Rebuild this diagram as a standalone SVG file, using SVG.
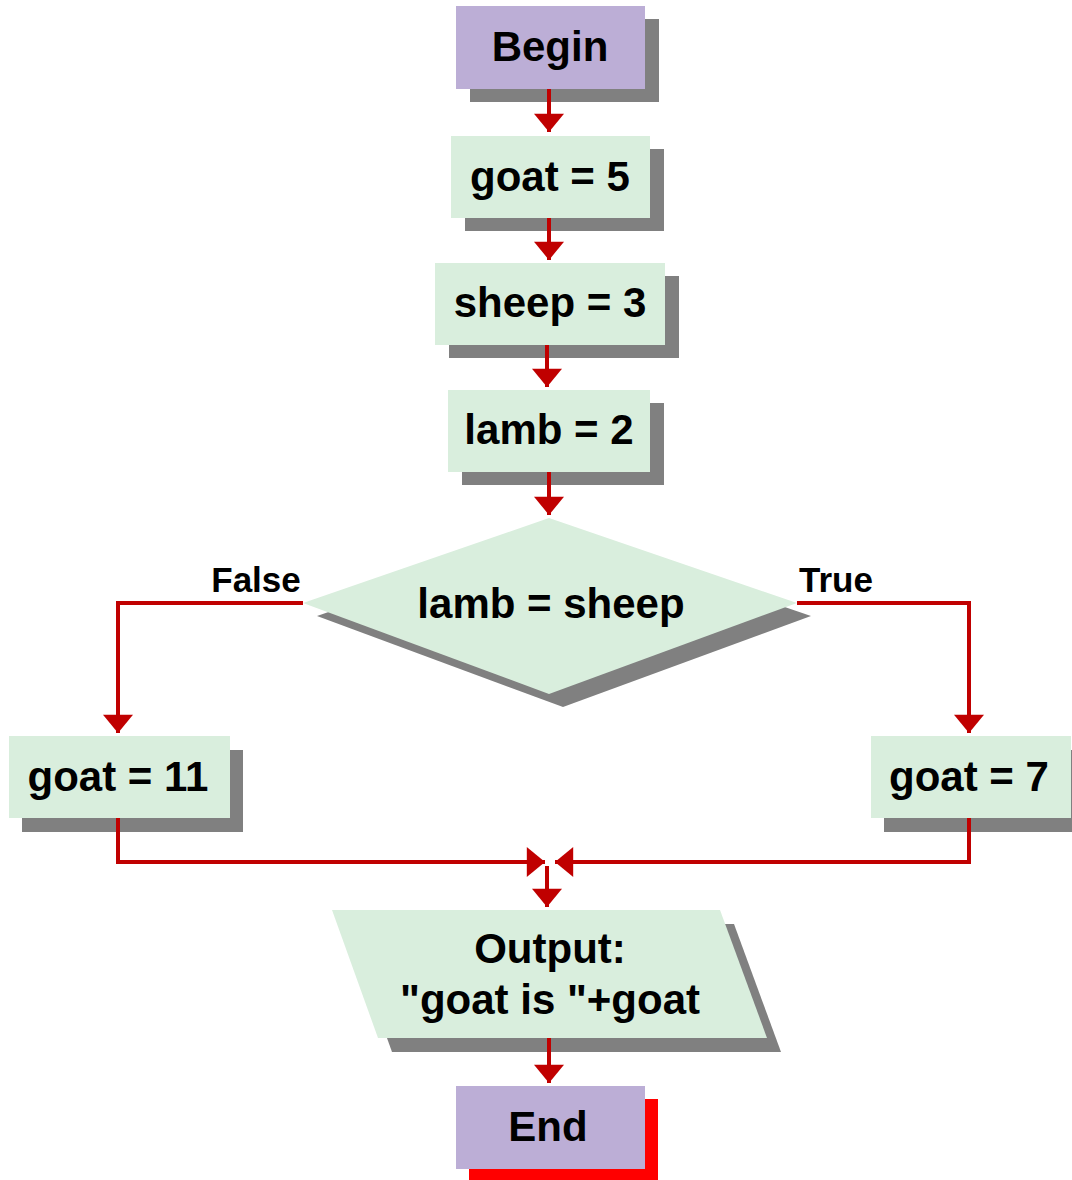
<svg xmlns="http://www.w3.org/2000/svg" width="1072" height="1180" viewBox="0 0 1072 1180">
<defs>
<style>
.term{fill:#bcaed6}
.proc{fill:#d9eedd}
.sh{fill:#808080}
.shr{fill:#ff0000}
.t{font-family:"Liberation Sans",Arial,sans-serif;font-weight:bold;font-size:42px;fill:#000;text-anchor:middle}
.lbl{font-family:"Liberation Sans",Arial,sans-serif;font-weight:bold;font-size:35px;fill:#000;text-anchor:middle}
.c{fill:none;stroke:#c00000;stroke-width:4}
</style>
<marker id="ah" markerUnits="userSpaceOnUse" markerWidth="30" markerHeight="30" viewBox="0 0 17 28" refX="17" refY="14" orient="auto">
<path d="M0,0 L17,14 L0,28 Z" fill="#c00000"/>
</marker>
</defs>
<rect width="1072" height="1180" fill="#fff"/>
<g id="begin">
<rect class="sh" x="470" y="19" width="189" height="83"/>
<rect class="term" x="456" y="6" width="189" height="83"/>
<text class="t" x="550" y="61">Begin</text>
</g>
<g id="goat5">
<rect class="sh" x="465" y="149" width="199" height="82"/>
<rect class="proc" x="451" y="136" width="199" height="82"/>
<text class="t" x="550" y="191">goat = 5</text>
</g>
<g id="sheep3">
<rect class="sh" x="449" y="276" width="230" height="82"/>
<rect class="proc" x="435" y="263" width="230" height="82"/>
<text class="t" x="550" y="317">sheep = 3</text>
</g>
<g id="lamb2">
<rect class="sh" x="462" y="403" width="202" height="82"/>
<rect class="proc" x="448" y="390" width="202" height="82"/>
<text class="t" x="549" y="444">lamb = 2</text>
</g>
<g id="decision">
<polygon class="sh" points="563,531 811,616 563,707 317,616"/>
<polygon class="proc" points="549,518 797,603 549,694 303,603"/>
<text class="t" x="551" y="618">lamb = sheep</text>
</g>
<g id="goat11">
<rect class="sh" x="22" y="750" width="221" height="82"/>
<rect class="proc" x="9" y="736" width="221" height="82"/>
<text class="t" x="118" y="791">goat = 11</text>
</g>
<g id="goat7">
<rect class="sh" x="884" y="750" width="200" height="82"/>
<rect class="proc" x="871" y="736" width="200" height="82"/>
<text class="t" x="969" y="791">goat = 7</text>
</g>
<g id="output">
<polygon class="sh" points="346,924 734,924 781,1052 392,1052"/>
<polygon class="proc" points="332,910 720,910 767,1038 378,1038"/>
<text class="t" x="550" y="963">Output:</text>
<text class="t" x="550" y="1014">"goat is "+goat</text>
</g>
<g id="end">
<rect class="shr" x="469" y="1099" width="189" height="83"/>
<rect class="term" x="456" y="1086" width="189" height="83"/>
<text class="t" x="548" y="1141">End</text>
</g>
<g id="connectors">
<path class="c" d="M549,89 V132" marker-end="url(#ah)"/>
<path class="c" d="M549,218 V260" marker-end="url(#ah)"/>
<path class="c" d="M547,345 V387" marker-end="url(#ah)"/>
<path class="c" d="M549,472 V515" marker-end="url(#ah)"/>
<path class="c" d="M303,603 H118 V733" marker-end="url(#ah)"/>
<path class="c" d="M797,603 H969 V733" marker-end="url(#ah)"/>
<path class="c" d="M118,818 V862 H545" marker-end="url(#ah)"/>
<path class="c" d="M969,818 V862 H555" marker-end="url(#ah)"/>
<path class="c" d="M547,866 V907" marker-end="url(#ah)"/>
<path class="c" d="M549,1038 V1083" marker-end="url(#ah)"/>
<text class="lbl" x="256" y="592">False</text>
<text class="lbl" x="836" y="592">True</text>
</g>
</svg>
